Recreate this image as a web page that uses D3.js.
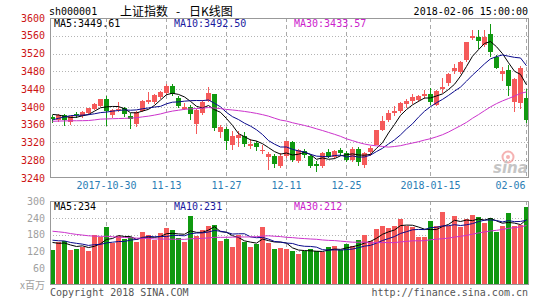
<!DOCTYPE html>
<html><head><meta charset="utf-8">
<script src="https://cdn.jsdelivr.net/npm/d3@7"></script>
<style>html,body{margin:0;padding:0;background:#fff;}svg{display:block;}</style>
</head><body><svg id="c" width="545" height="300"></svg>
<script>
const dates = ["2017-10-17","2017-10-18","2017-10-19","2017-10-20","2017-10-23","2017-10-24","2017-10-25","2017-10-26","2017-10-27","2017-10-30","2017-10-31",
"2017-11-01","2017-11-02","2017-11-03","2017-11-06","2017-11-07","2017-11-08","2017-11-09","2017-11-10","2017-11-13","2017-11-14","2017-11-15","2017-11-16","2017-11-17","2017-11-20","2017-11-21","2017-11-22","2017-11-23","2017-11-24","2017-11-27","2017-11-28","2017-11-29","2017-11-30",
"2017-12-01","2017-12-04","2017-12-05","2017-12-06","2017-12-07","2017-12-08","2017-12-11","2017-12-12","2017-12-13","2017-12-14","2017-12-15","2017-12-18","2017-12-19","2017-12-20","2017-12-21","2017-12-22","2017-12-25","2017-12-26","2017-12-27","2017-12-28","2017-12-29",
"2018-01-02","2018-01-03","2018-01-04","2018-01-05","2018-01-08","2018-01-09","2018-01-10","2018-01-11","2018-01-12","2018-01-15","2018-01-16","2018-01-17","2018-01-18","2018-01-19","2018-01-22","2018-01-23","2018-01-24","2018-01-25","2018-01-26","2018-01-29","2018-01-30","2018-01-31",
"2018-02-01","2018-02-02","2018-02-05","2018-02-06"];
const open = [3377,3370,3381,3365,3384,3379,3387,3396,3403,3417,3381,3392,3397,3380,3362,3390,3411,3412,3423,3431,
3447,3421,3396,3399,3362,3386,3414,3428,3344,3351,3314,3331,3335,3313,3318,3300,3287,3290,3266,3290,
3320,3278,3301,3289,3272,3268,3299,3287,3302,3297,3280,3305,3270,3298,3314,3347,3371,3387,3391,3406,
3414,3416,3424,3428,3405,3440,3453,3480,3478,3505,3556,3558,3540,3564,3513,3474,3482,3412,3408,3419];
const high = [3382,3384,3385,3380,3388,3390,3398,3409,3418,3424,3396,3412,3400,3386,3390,3416,3434,3430,3436,3451,
3451,3425,3408,3404,3395,3416,3444,3430,3360,3354,3345,3345,3343,3327,3324,3314,3299,3295,3297,3323,
3323,3306,3305,3292,3278,3298,3305,3303,3308,3300,3310,3309,3298,3311,3349,3379,3392,3402,3412,3417,
3430,3427,3437,3442,3438,3466,3477,3497,3503,3547,3572,3573,3574,3587,3517,3490,3495,3465,3492,3441];
const low = [3364,3366,3357,3359,3374,3375,3382,3392,3400,3357,3376,3388,3378,3350,3354,3388,3407,3406,3418,3426,
3425,3398,3392,3370,3339,3381,3410,3346,3331,3304,3303,3310,3309,3305,3301,3295,3258,3262,3262,3286,
3276,3274,3285,3262,3254,3263,3285,3282,3290,3275,3275,3268,3263,3290,3314,3345,3365,3380,3386,3397,
3407,3410,3418,3404,3402,3431,3448,3475,3475,3500,3551,3530,3535,3513,3485,3458,3425,3389,3396,3363];
const close = [3372.04,3381.79,3370.17,3378.65,3380.70,3388.25,3396.90,3407.57,3416.81,3390.34,3393.34,3395.91,3383.31,3371.74,3388.17,3413.57,3415.46,3427.79,3432.67,3447.84,
3429.55,3402.52,3399.25,3382.91,3392.40,3410.50,3430.46,3351.92,3353.82,3322.23,3333.66,3337.86,3317.19,3317.62,3309.62,3303.68,3293.96,3272.05,3289.45,3322.20,
3280.81,3303.04,3292.44,3266.14,3267.92,3296.54,3287.61,3300.06,3297.06,3280.46,3306.12,3275.78,3296.38,3307.17,3348.33,3369.11,3385.71,3391.75,3409.48,3413.90,
3421.83,3425.34,3428.94,3410.49,3436.59,3444.67,3474.75,3487.86,3501.36,3546.50,3559.47,3548.31,3558.13,3523.00,3488.01,3480.83,3446.98,3462.08,3487.50,3370.65];
const volume = [125,152,158,125,128,136,122,180,170,207,151,175,163,171,153,189,180,159,185,203,
196,169,153,246,176,196,210,214,157,164,135,178,154,135,146,207,150,130,133,129,
121,111,121,129,121,117,135,139,124,147,139,160,177,157,201,210,204,210,236,210,
207,172,172,229,210,261,210,246,207,236,250,243,222,240,189,209,258,209,214,278];
// closes / volumes of the sessions before the window (needed for the moving averages at the left edge)
const prevClose = [3363.63,3360.81,3367.12,3379.58,3384.32,3385.39,3365.50,3365.24,3376.42,3379.49,3384.15,3371.43,3353.62,3362.86,3356.84,
3366.00,3357.81,3352.53,3341.55,3343.58,3345.27,3339.64,3348.94,3374.38,3382.99,3388.28,3386.10,3390.52,3378.47];
const prevVolume = [215,228,240,222,205,198,212,203,190,210,218,196,201,188,207,195,214,199,203,216,172,165,178,160,165,168,152,160,155];
const priceTicks = [3240,3280,3320,3360,3400,3440,3480,3520,3560,3600];
const volTicks = [60,120,180,240,300];
const xTickDates = ["2017-10-30","2017-11-13","2017-11-27","2017-12-11","2017-12-25","2018-01-15","2018-02-06"];
const xTickLabels = ["2017-10-30","11-13","11-27","12-11","12-25","2018-01-15","02-06"];
const maPeriods = [5,10,30];
const maColors = ["#000000","#0a0a8c","#cc33cc"];
const maTextColors = ["#000000","#1a1aa0","#cc22cc"];

const UP = "#f55a5a", DOWN = "#109910";
const MONO = "'DejaVu Sans Mono', 'Liberation Mono', monospace";
const CJK = "'Noto Sans CJK SC', sans-serif";

const svg = d3.select("#c");
const L = 50, R = 528;
const x = d3.scaleBand().domain(dates).range([49.5, 529.5]).padding(0);
const yP = d3.scaleLinear().domain([3240, 3600]).range([178, 18]);
const yV = d3.scaleLinear().domain([0, 300]).range([285, 201]);
const cx = d => x(d) + 3;

function ma(prev, cur, n) {
  const all = prev.concat(cur), off = prev.length;
  return cur.map((_, i) => d3.mean(all.slice(off + i - n + 1, off + i + 1)));
}
const priceMA = maPeriods.map(n => ma(prevClose, close, n));
const volMA = maPeriods.map(n => ma(prevVolume, volume, n));

// grids
const g = svg.append("g");
priceTicks.slice(1, -1).forEach(t => {
  const y = Math.round(yP(t)) + 0.5;
  g.append("line").attr("x1", L).attr("x2", R).attr("y1", y).attr("y2", y)
    .attr("stroke", "#b4b4b4").attr("stroke-dasharray", "1,2");
});
volTicks.slice(0, -1).forEach(t => {
  const y = Math.round(yV(t)) + 0.5;
  g.append("line").attr("x1", L).attr("x2", R).attr("y1", y).attr("y2", y)
    .attr("stroke", "#b4b4b4").attr("stroke-dasharray", "1,2");
});
xTickDates.forEach(d => {
  const xx = cx(d);
  [[18, 178], [201, 285]].forEach(([a, b]) =>
    g.append("line").attr("x1", xx).attr("x2", xx).attr("y1", a).attr("y2", b)
      .attr("stroke", "#aaaaaa").attr("stroke-dasharray", "4,3"));
});

// candles
const cg = svg.append("g");
dates.forEach((d, i) => {
  const up = close[i] >= open[i];
  const col = up ? UP : DOWN;
  cg.append("line").attr("x1", cx(d)).attr("x2", cx(d))
    .attr("y1", Math.round(yP(high[i]))).attr("y2", Math.round(yP(low[i])))
    .attr("stroke", col).attr("stroke-width", 1);
  const y1 = Math.round(yP(Math.max(open[i], close[i])));
  const y2 = Math.round(yP(Math.min(open[i], close[i])));
  cg.append("rect").attr("x", x(d) + 0.5).attr("width", 5)
    .attr("y", y1).attr("height", Math.max(1, y2 - y1)).attr("fill", col);
});

// volume bars
const vg = svg.append("g");
dates.forEach((d, i) => {
  const up = close[i] >= open[i];
  const y = Math.round(yV(volume[i]));
  vg.append("rect").attr("x", x(d) + 0.5).attr("width", 5)
    .attr("y", y).attr("height", 285 - y).attr("fill", up ? UP : DOWN);
});

// MA lines
maPeriods.forEach((n, k) => {
  svg.append("path").datum(priceMA[k])
    .attr("d", d3.line().x((v, i) => cx(dates[i])).y(v => yP(v)))
    .attr("fill", "none").attr("stroke", maColors[k]).attr("stroke-width", 1);
  svg.append("path").datum(volMA[k])
    .attr("d", d3.line().x((v, i) => cx(dates[i])).y(v => yV(v)))
    .attr("fill", "none").attr("stroke", maColors[k]).attr("stroke-width", 1);
});

// frames
svg.append("rect").attr("x", L + 0.5).attr("y", 18.5).attr("width", R - L).attr("height", 159)
  .attr("fill", "none").attr("stroke", "#999");
svg.append("rect").attr("x", L + 0.5).attr("y", 201.5).attr("width", R - L).attr("height", 83)
  .attr("fill", "none").attr("stroke", "#999");

// axes
const ay = svg.append("g").attr("transform", `translate(${L},0)`)
  .call(d3.axisLeft(yP).tickValues(priceTicks).tickSize(0).tickPadding(5).tickFormat(d3.format("d")));
ay.select(".domain").remove();
ay.selectAll("text").attr("fill", "#cc1414").style("font-family", MONO).style("font-size", "10px");

const av = svg.append("g").attr("transform", `translate(${L},0)`)
  .call(d3.axisLeft(yV).tickValues(volTicks).tickSize(0).tickPadding(5).tickFormat(d3.format("d")));
av.select(".domain").remove();
av.selectAll("text").attr("fill", "#a0a0a0").style("font-family", MONO).style("font-size", "10px");

const ax = svg.append("g").attr("transform", "translate(0,178)")
  .call(d3.axisBottom(x).tickValues(xTickDates).tickSize(0).tickPadding(4)
    .tickFormat(d => xTickLabels[xTickDates.indexOf(d)]));
ax.select(".domain").remove();
ax.selectAll("text").attr("fill", "#2a7db5").style("font-family", MONO).style("font-size", "10px");
ax.selectAll(".tick").filter(d => d === "2018-02-06").select("text").attr("text-anchor", "end").attr("dx", "-1");

// texts
const txt = (s, xx, yy, opt = {}) => svg.append("text").text(s).attr("x", xx).attr("y", yy)
  .attr("fill", opt.fill || "#000").attr("text-anchor", opt.anchor || "start")
  .style("font-family", opt.font || MONO).style("font-size", (opt.size || 10) + "px");

txt("sh000001", 49, 15);
txt("上证指数", 120, 16, {font: CJK, size: 12});
txt("-", 176, 16, {font: CJK, size: 12});
txt("日K线图", 189, 16, {font: CJK, size: 12});
txt("2018-02-06 15:00:00", 528, 15, {anchor: "end"});

const labX = [54, 174, 294];
maPeriods.forEach((n, k) => {
  txt(`MA${n}:${priceMA[k][priceMA[k].length - 1].toFixed(2)}`, labX[k], 27, {fill: maTextColors[k]});
  txt(`MA${n}:${Math.round(volMA[k][volMA[k].length - 1])}`, labX[k], 210, {fill: maTextColors[k]});
});

txt("x百万", 45, 289, {anchor: "end", fill: "#a0a0a0", font: CJK, size: 10});
txt("Copyright 2018 SINA.COM", 50, 296, {fill: "#555"});
txt("http://finance.sina.com.cn", 528, 296, {fill: "#555", anchor: "end"});

// sina watermark
const wm = svg.append("g").attr("opacity", 0.6);
wm.append("circle").attr("cx", 508).attr("cy", 157).attr("r", 5.5).attr("fill", "none").attr("stroke", "#f08080").attr("stroke-width", 2);
wm.append("circle").attr("cx", 508).attr("cy", 157).attr("r", 2).attr("fill", "#f08080");
wm.append("text").text("sina").attr("x", 493).attr("y", 173).attr("fill", "#a0a0a0")
  .style("font-family", "'DejaVu Sans', sans-serif").style("font-size", "15px")
  .style("font-weight", "bold").style("font-style", "italic");
</script></body></html>
